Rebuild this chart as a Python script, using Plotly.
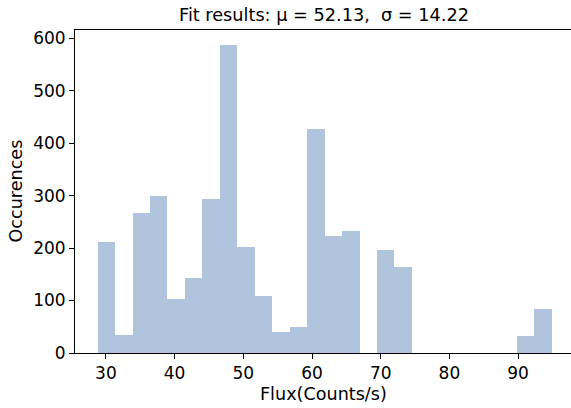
import plotly.graph_objects as go

# Histogram data
bin_start = 28.79
bin_width = 2.542
counts = [212, 35, 267, 299, 103, 142, 293, 586, 202, 109, 40, 50, 426,
          223, 232, 0, 196, 164, 0, 0, 0, 0, 0, 0, 33, 84]
x_ticks = [30, 40, 50, 60, 70, 80, 90]
y_ticks = [0, 100, 200, 300, 400, 500, 600]
title_text = "Fit results: μ = 52.13,&nbsp; σ = 14.22"
x_label = "Flux(Counts/s)"
y_label = "Occurences"

centers = [bin_start + (i + 0.5) * bin_width for i in range(len(counts))]

fig = go.Figure()
fig.add_trace(go.Bar(
    x=centers, y=counts, width=[bin_width] * len(counts),
    marker=dict(color="#B0C4DE", line=dict(width=0)),
    hoverinfo="skip",
))

fam = "DejaVu Sans"
title_font = dict(family=fam, size=17.7, color="black")
tick_font = dict(family=fam, size=17, color="black")
label_font = dict(family=fam, size=17.6, color="black")

fig.update_layout(
    width=571, height=408,
    margin=dict(l=75, r=0, t=30, b=55),
    paper_bgcolor="white", plot_bgcolor="white",
    showlegend=False, bargap=0,
    font=tick_font,
    annotations=[
        dict(text=title_text, x=0.502, y=1, xref="paper", yref="paper",
             xanchor="center", yanchor="bottom", yshift=3,
             showarrow=False, font=title_font),
        dict(text=x_label, x=0.502, y=0, xref="paper", yref="paper",
             xanchor="center", yanchor="middle", yshift=-41,
             showarrow=False, font=label_font),
        dict(text=y_label, x=0, y=0.5, xref="paper", yref="paper",
             xanchor="center", yanchor="middle", xshift=-60, textangle=-90,
             showarrow=False, font=label_font),
    ],
)
fig.update_xaxes(
    range=[25.5, 97.7], tickvals=x_ticks, ticktext=[str(t) for t in x_ticks],
    showline=True, linecolor="black", linewidth=1, mirror=True,
    ticks="outside", ticklen=5, tickwidth=1, tickcolor="black",
    showgrid=False, zeroline=False, tickfont=tick_font,
)
fig.update_yaxes(
    range=[0, 615.5], tickvals=y_ticks, ticktext=[str(t) for t in y_ticks],
    showline=True, linecolor="black", linewidth=1,
    ticks="outside", ticklen=5, tickwidth=1, tickcolor="black",
    showgrid=False, zeroline=False, tickfont=tick_font,
)
fig.write_html("out.html")
